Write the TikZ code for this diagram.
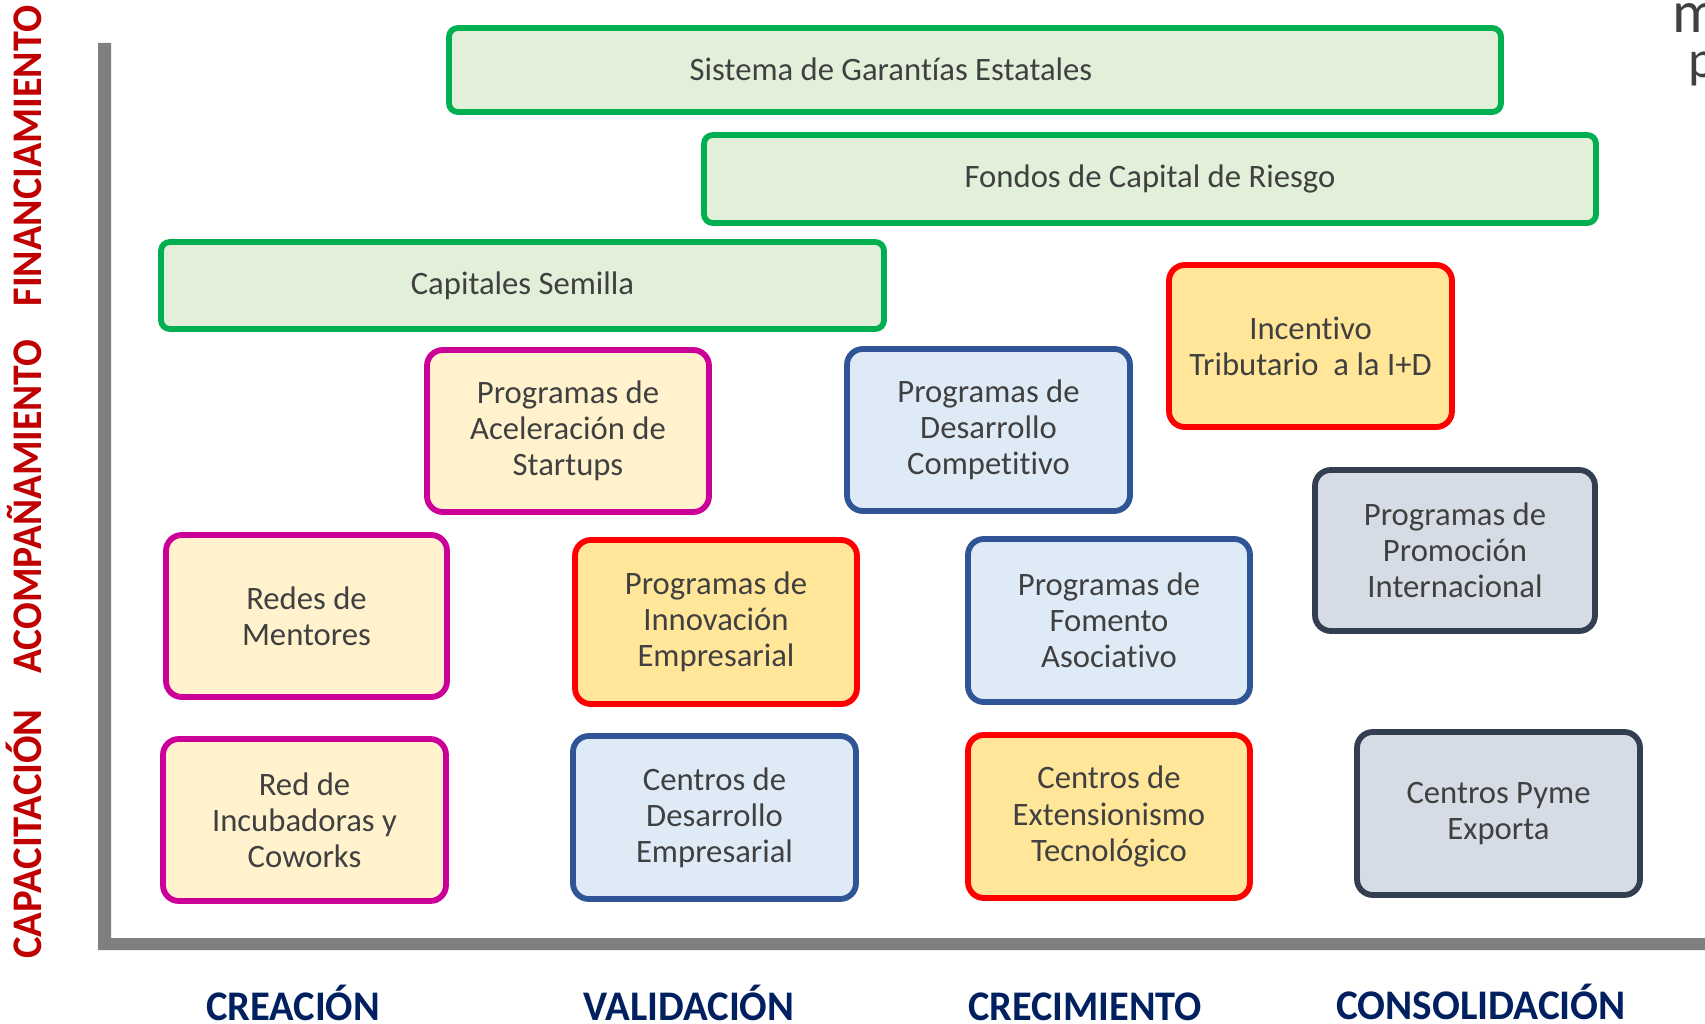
\documentclass[tikz,border=0pt]{standalone}
\usepackage{fontspec}
\setmainfont{Carlito}[Ligatures=NoCommon]
\usepackage{graphicx}
\definecolor{gborder}{HTML}{00B050}
\definecolor{gfill}{HTML}{E2F0D9}
\definecolor{magb}{HTML}{CC0099}
\definecolor{creamf}{HTML}{FFF2CC}
\definecolor{redb}{HTML}{FF0000}
\definecolor{yellf}{HTML}{FFE699}
\definecolor{blueb}{HTML}{2F5597}
\definecolor{bluef}{HTML}{DEEBF7}
\definecolor{slateb}{HTML}{333F50}
\definecolor{slatef}{HTML}{D6DCE5}
\definecolor{axisc}{HTML}{7F7F7F}
\definecolor{labred}{HTML}{C00000}
\definecolor{navy}{HTML}{002060}
\definecolor{txt}{HTML}{404040}
\newcommand{\pbox}[7]{\node[#1, minimum width={(#5-#3)*0.02cm}, minimum height={(#6-#4)*0.02cm}] (#2) at ({(#3+#5)/2},{(#4+#6)/2}) {#7};}
\newcommand{\fitw}[2]{\resizebox{#1}{\height}{#2}}
\begin{document}
\begin{tikzpicture}[x=0.02cm,y=-0.02cm,
  boxbase/.style={rounded corners=9pt, line width=3.3pt, align=center, inner sep=0pt,
    font=\fontsize{18.6}{20.6}\selectfont, text=txt},
  gbox/.style={boxbase, draw=gborder, fill=gfill, rounded corners=5pt},
  mbox/.style={boxbase, draw=magb, fill=creamf},
  rbox/.style={boxbase, draw=redb, fill=yellf},
  bbox/.style={boxbase, draw=blueb, fill=bluef},
  sbox/.style={boxbase, draw=slateb, fill=slatef},
  sidelab/.style={font=\bfseries\fontsize{24}{24}\selectfont, text=labred, rotate=90, anchor=base, inner sep=0pt},
  stagelab/.style={font=\bfseries\fontsize{24}{24}\selectfont, text=navy, anchor=base, inner sep=0pt},
  plain/.style={font=\fontsize{18.6}{20.6}\selectfont, text=txt, inner sep=0pt}
]
\useasboundingbox (0,0) rectangle (1705,1024);
\clip (0,0) rectangle (1705,1024);
\fill[white] (0,0) rectangle (1705,1024);

% axes
\fill[axisc] (98,43) -- (111,43) -- (111,938) -- (1705,938) -- (1705,950) -- (98,950) -- cycle;

% financing bars
\pbox{gbox}{sg}{449}{28}{1501}{112}{}
\node[plain, anchor=center] (sgt) at (891,69) {Sistema de Garantías Estatales};
\pbox{gbox}{fcr}{704}{135}{1596}{223}{Fondos de Capital de Riesgo}
\pbox{gbox}{cs}{161}{242}{884}{329}{Capitales Semilla}

% boxes
\pbox{rbox}{itd}{1169}{265}{1452}{427}{Incentivo\\Tributario\ \ a la I+D}
\pbox{mbox}{pa}{427}{350}{709}{512}{Programas de\\Aceleración de\\Startups}
\pbox{bbox}{pdc}{847}{349}{1130}{511}{Programas de\\Desarrollo\\Competitivo}
\pbox{sbox}{ppi}{1315}{470}{1595}{631}{Programas de\\Promoción\\Internacional}
\pbox{mbox}{rm}{166}{535}{447}{697}{Redes de\\Mentores}
\pbox{rbox}{pie}{575}{540}{857}{704}{Programas de\\Innovación\\Empresarial}
\pbox{bbox}{pfa}{968}{539}{1250}{702}{Programas de\\Fomento\\Asociativo}
\pbox{mbox}{ri}{163}{739}{446}{901}{Red de\\Incubadoras y\\Coworks}
\pbox{bbox}{cde}{573}{736}{856}{899}{Centros de\\Desarrollo\\Empresarial}
\pbox{rbox}{cet}{968}{735}{1250}{898}{Centros de\\Extensionismo\\Tecnológico}
\pbox{sbox}{cpe}{1357}{732}{1640}{895}{Centros Pyme\\Exporta}

% side labels
\node[sidelab] (lcap) at (41,834) {\fitw{142pt}{CAPACITACIÓN}};
\node[sidelab] (lacom) at (41,507) {\fitw{190pt}{ACOMPAÑAMIENTO}};
\node[sidelab] (lfin) at (41,156) {\fitw{171pt}{FINANCIAMIENTO}};

% stage labels
\node[stagelab] (screa) at (293,1020) {\fitw{99pt}{CREACIÓN}};
\node[stagelab] (svali) at (689,1020) {\fitw{120pt}{VALIDACIÓN}};
\node[stagelab] (screc) at (1085,1020) {\fitw{133pt}{CRECIMIENTO}};
\node[stagelab] (scons) at (1481,1019) {\fitw{165pt}{CONSOLIDACIÓN}};

% cut-off text at top right
\node[font=\fontsize{34}{34}\selectfont, text=txt, anchor=base west, inner sep=0pt] (cm) at (1672,33) {m};
\node[font=\fontsize{30}{30}\selectfont, text=txt, anchor=base west, inner sep=0pt] (cp) at (1688,78) {p};
\end{tikzpicture}
\end{document}
